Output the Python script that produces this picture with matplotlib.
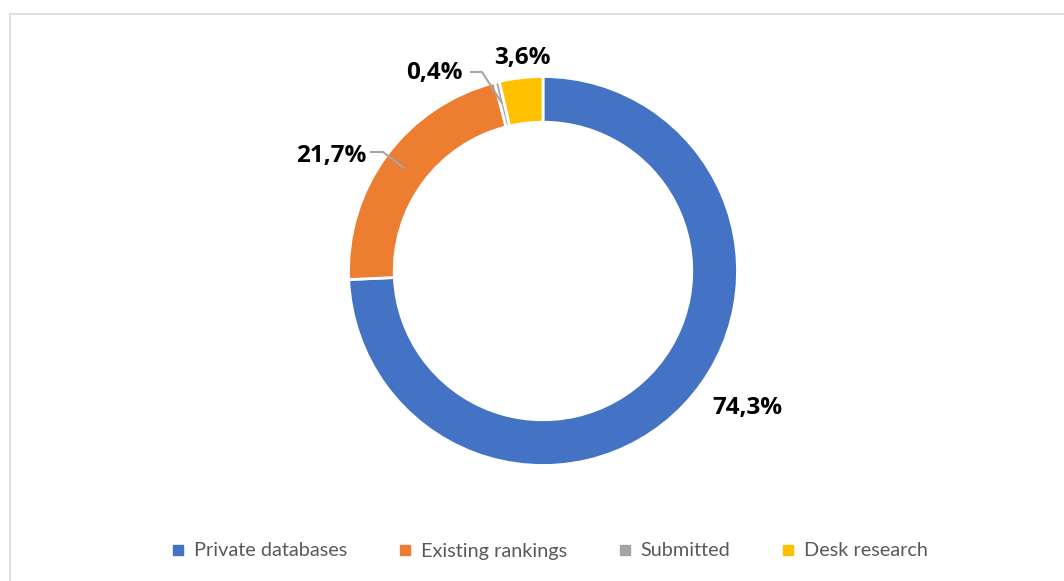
import numpy as np
import matplotlib
matplotlib.use("Agg")
import matplotlib.pyplot as plt
from matplotlib.patches import Rectangle

categories = ["Private databases", "Existing rankings", "Submitted", "Desk research"]
values = [74.3, 21.7, 0.4, 3.6]
labels = ["74,3%", "21,7%", "0,4%", "3,6%"]
colors = ["#4472C4", "#ED7D31", "#A5A5A5", "#FFC000"]

W, H = 1064, 581
fig = plt.figure(figsize=(W / 100, H / 100), dpi=100)
fig.patch.set_facecolor("white")

cx, cy, R = 543, 271, 194.5
half = 205
ax = fig.add_axes([(cx - half) / W, (H - cy - half) / H, 2 * half / W, 2 * half / H])

wedges, _ = ax.pie(values, colors=colors, startangle=90, counterclock=False, radius=1.0,
                   wedgeprops=dict(width=0.235, edgecolor="white", linewidth=2))
lim = half / R
ax.set_xlim(-lim, lim)
ax.set_ylim(-lim, lim)
ax.set_aspect("equal")
ax.axis("off")

def px(x, y):
    return ((x - cx) / R, (cy - y) / R)

lab_font = dict(family=["Open Sans", "DejaVu Sans"], fontweight="bold", fontsize=17.5, color="black")

label_pos = {
    0: ((747, 408), "center", None),
    1: ((366, 156), "right", ((370, 152), (383, 152))),
    2: ((463, 73), "right", ((470, 72), (482, 72))),
    3: ((522, 58), "center", None),
}
for i, w in enumerate(wedges):
    (lx, ly), ha, lead = label_pos[i]
    tx, ty = px(lx, ly)
    ax.text(tx, ty, labels[i], ha=ha, va="center", **lab_font)
    if lead is not None:
        mid = np.deg2rad((w.theta1 + w.theta2) / 2)
        r = 1.0 - 0.235 / 2 + 0.005
        ex, ey = r * np.cos(mid), r * np.sin(mid)
        (ax1, ay1), (ax2, ay2) = px(*lead[0]), px(*lead[1])
        ax.plot([ax1, ax2, ex], [ay1, ay2, ey], color="#A6A6A6", lw=1.5, zorder=5,
                solid_capstyle="butt")

handles = [plt.Line2D([], [], marker="s", linestyle="none", markersize=7,
                      markerfacecolor=c, markeredgecolor=c) for c in colors]
leg = fig.legend(handles, categories, loc="center", bbox_to_anchor=(550 / W, (H - 551) / H),
                 ncol=4, frameon=False, handlelength=0.6, handletextpad=0.5,
                 columnspacing=2.6, prop=dict(family=["Lato", "DejaVu Sans"], size=14.3))
for t in leg.get_texts():
    t.set_color("#595959")

fig.patches.append(Rectangle((10 / W, -0.05), 1.1, (H - 14) / H + 0.05, transform=fig.transFigure,
                             fill=False, edgecolor="#D9D9D9", linewidth=1.2))

fig.savefig("out.png", dpi=100, facecolor="white")
